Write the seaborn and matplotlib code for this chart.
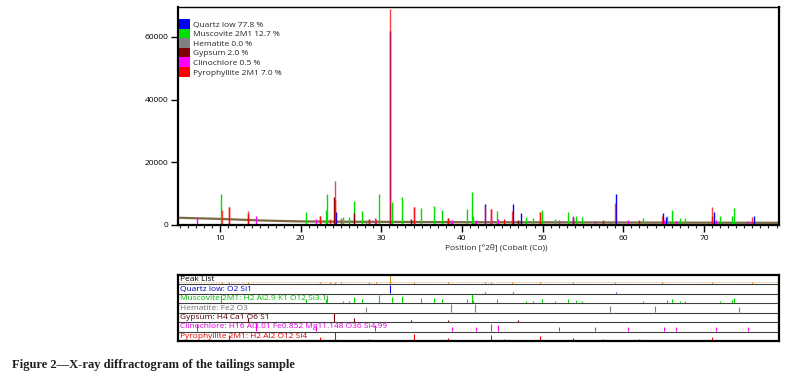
"""X-ray diffractogram of the tailings sample, with phase peak list panel."""

import matplotlib

matplotlib.use("Agg")
import matplotlib.pyplot as plt
import numpy as np
import pandas as pd
import seaborn as sns
from matplotlib.patches import Patch
from matplotlib.ticker import MultipleLocator

sns.set_theme(style="ticks")
plt.rcParams["font.family"] = ["Open Sans", "DejaVu Sans"]

# phases
PHASES = ["Quartz low", "Muscovite 2M1", "Hematite", "Gypsum", "Clinochlore", "Pyrophyllite 2M1"]
PERCENT = [77.8, 12.7, 0.0, 2.0, 0.5, 7.0]
FORMULAS = [
    "O2 Si1",
    "H2 Al2.9 K1 O12 Si3.1",
    "Fe2 O3",
    "H4 Ca1 O6 S1",
    "H16 Al3.01 Fe0.852 Mg11.148 O36 Si4.99",
    "H2 Al2 O12 Si4",
]
COLORS = ["#0000ff", "#00e000", "#808080", "#800000", "#ff00ff", "#ff0000"]
TEXT_COLORS = ["#0000c0", "#00c000", "#707070", "#500000", "#e000e0", "#e00000"]

# measured background
BG_POS = [5, 7, 10, 12, 15, 18, 20, 25, 30, 35, 40, 50, 60, 70, 79.3]
BG_INT = [2300, 2150, 1950, 1750, 1450, 1250, 1150, 1050, 1000, 950, 900, 850, 800, 750, 700]

# measured peaks (red profile)
OBS_POS = [10.2, 11.1, 13.5, 22.4, 23.6, 24.3, 25.0, 28.5, 29.3, 31.1, 34.0, 38.3, 42.9,
           43.6, 46.2, 49.7, 53.8, 59.0, 64.8, 71.0, 76.0]
OBS_INT = [4800, 5600, 4400, 3000, 2000, 14000, 2200, 1800, 2000, 69000, 5700, 2200, 6000,
           5000, 4500, 4000, 2800, 7000, 2800, 5700, 2500]

# reference patterns
QUARTZ_POS = [24.4, 31.1, 42.9, 46.3, 47.3, 53.8, 59.1, 64.9, 65.3, 71.2, 76.2]
QUARTZ_INT = [4000, 62000, 6600, 6600, 3800, 2600, 10000, 3800, 2400, 4200, 2900]

MUSC_POS = [10.1, 20.7, 23.1, 23.3, 25.2, 26.0, 26.6, 27.6, 29.7, 31.3, 32.6, 34.9, 36.5,
            37.5, 40.6, 41.2, 41.4, 44.4, 47.9, 48.8, 49.9, 51.5, 53.2, 54.1, 54.9, 62.4,
            65.4, 66.0, 67.0, 67.6, 72.0, 73.5, 73.7]
MUSC_INT = [9800, 4200, 4800, 9900, 2600, 2400, 7600, 4400, 9800, 7300, 8900, 5500, 6100,
            4800, 5000, 10400, 3000, 4500, 2600, 2300, 4900, 1800, 4300, 2900, 2400, 2200,
            3000, 4800, 2300, 2300, 2800, 3000, 5500]

HEM_POS = [28.1, 38.6, 41.6, 58.4, 63.9, 74.3]
HEM_INT = [1000, 1500, 1400, 1100, 1100, 950]

GYP_POS = [13.5, 24.2, 26.6, 33.7, 38.3, 47.0]
GYP_INT = [3500, 9000, 3700, 2000, 1800, 1500]

CLIN_POS = [7.15, 14.5, 21.9, 29.2, 38.8, 41.7, 43.6, 44.5, 52.0, 56.5, 60.6, 65.0, 66.5,
            71.5, 75.5]
CLIN_INT = [2600, 3000, 1900, 2100, 1600, 1500, 2500, 2000, 1500, 1400, 1500, 1600, 1400,
            1500, 1400]

PYRO_POS = [11.1, 22.4, 24.3, 28.5, 34.0, 38.3, 43.6, 45.2, 49.7, 53.8, 57.5, 62.0, 71.0]
PYRO_INT = [5600, 3000, 8000, 1800, 5700, 2200, 5000, 1800, 4000, 2000, 1500, 1600, 3000]

PHASE_POS = [QUARTZ_POS, MUSC_POS, HEM_POS, GYP_POS, CLIN_POS, PYRO_POS]
PHASE_INT = [QUARTZ_INT, MUSC_INT, HEM_INT, GYP_INT, CLIN_INT, PYRO_INT]

X_LIM = (4.8, 79.3)
FS = 6.0


def plot_pattern(ax):
    bg = pd.DataFrame({"pos": BG_POS, "counts": BG_INT})
    sns.lineplot(data=bg, x="pos", y="counts", color="#7b6a44", lw=1.6, ax=ax)

    for i in [1, 2, 3, 5]:
        ax.vlines(PHASE_POS[i], 0, PHASE_INT[i], color=COLORS[i], lw=1.0)
    ax.vlines(QUARTZ_POS, 0, QUARTZ_INT, color=COLORS[0], lw=1.0)
    ax.vlines(OBS_POS, 0, OBS_INT, color="#ff1010", lw=1.0, alpha=0.8)
    ax.vlines(CLIN_POS, 0, CLIN_INT, color=COLORS[4], lw=1.0)

    ax.set_xlim(*X_LIM)
    ax.set_ylim(0, 69500)
    ax.set_yticks([0, 20000, 40000, 60000])
    ax.xaxis.set_major_locator(MultipleLocator(10))
    ax.xaxis.set_minor_locator(MultipleLocator(1))
    ax.tick_params(axis="both", which="major", labelsize=FS, length=5, width=1, pad=2,
                   colors="black")
    ax.tick_params(axis="x", which="minor", length=2.5, width=0.8)
    ax.set_ylabel("")
    ax.set_xlabel("Position [°2θ] (Cobalt (Co))", fontsize=FS)
    ax.xaxis.set_label_coords(0.529, -0.085)

    for sp in ax.spines.values():
        sp.set_visible(True)
        sp.set_color("black")
        sp.set_linewidth(1.6)
    ax.spines["top"].set_linewidth(1.0)

    handles = [Patch(facecolor=c, edgecolor="none") for c in COLORS]
    labels = [f"{name} {pct:.1f} %" for name, pct in zip(PHASES, PERCENT)]
    ax.legend(handles, labels, loc="upper left", bbox_to_anchor=(0.002, 0.945),
              frameon=False, fontsize=FS, handlelength=1.35, handleheight=1.4,
              labelspacing=0.0, handletextpad=0.3, borderpad=0, borderaxespad=0)


def plot_peak_list(ax):
    ax.set_xlim(*X_LIM)
    ax.set_ylim(7, 0)

    # peak list row
    obs = np.array(OBS_INT, dtype=float)
    rel = np.maximum(obs / obs.max(), 0.18)
    ax.hlines(0.72, *X_LIM, color="#e0b080", lw=0.6, linestyles=(0, (1.5, 1.5)))
    ax.vlines(OBS_POS, 0.92, 0.92 - rel * 0.9, color="#e8902a", lw=0.8)
    ax.text(5.0, 0.5, "Peak List", fontsize=FS, color="black", va="center")

    for i in range(len(PHASES)):
        base = i + 2
        h = np.array(PHASE_INT[i], dtype=float)
        rel = h / h.max()
        ax.vlines(PHASE_POS[i], base - 0.05, base - 0.05 - rel * 0.9, color=COLORS[i], lw=0.8)
        ax.text(5.0, base - 0.5, f"{PHASES[i]}: {FORMULAS[i]}", fontsize=FS,
                color=TEXT_COLORS[i], va="center")

    ax.hlines(range(1, 7), *X_LIM, color="#404040", lw=0.8)
    ax.set_xticks([])
    ax.set_yticks([])
    for sp in ax.spines.values():
        sp.set_visible(True)
        sp.set_linewidth(1.6)
        sp.set_color("black")


def main():
    fig = plt.figure(figsize=(8.01, 3.82), dpi=100)
    fig.patch.set_facecolor("white")

    ax = fig.add_axes([0.2222, 0.411, 0.7503, 0.5707])
    plot_pattern(ax)

    pk = fig.add_axes([0.2222, 0.1073, 0.7503, 0.1728])
    plot_peak_list(pk)

    fig.text(0.015, 0.044, "Figure 2—X-ray diffractogram of the tailings sample",
             family=["Liberation Serif", "DejaVu Serif"], fontweight="bold", fontsize=9,
             color="#231f20", va="center")

    fig.savefig("out.png", dpi=100, facecolor="white")
    plt.close(fig)


if __name__ == "__main__":
    main()
